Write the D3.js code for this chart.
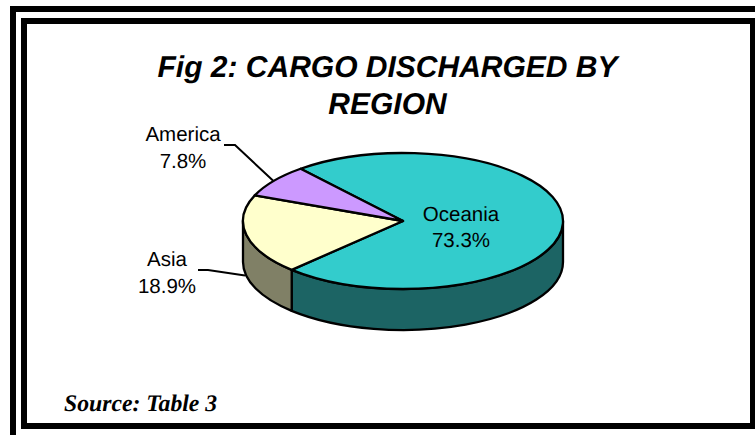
<!DOCTYPE html>
<html>
<head>
<meta charset="utf-8">
<script src="https://cdn.jsdelivr.net/npm/d3@7/dist/d3.min.js"></script>
<style>
html,body{margin:0;padding:0;background:#fff;overflow:hidden}
svg{display:block;text-rendering:geometricPrecision}
</style>
</head>
<body>
<svg id="c" width="755" height="435"></svg>
<script>
const categories = ["Oceania", "Asia", "America"];
const shares = [73.3, 18.9, 7.8];
const topColors = ["#33cccc", "#ffffcc", "#cc99ff"];
const sideColors = ["#1c6464", "#808066", "#664d80"];
const titleLines = ["Fig 2: CARGO DISCHARGED BY", "REGION"];
const sourceNote = "Source: Table 3";

const svg = d3.select("#c");
const cx = 403, cy = 221, rx = 160, ry = 68, depth = 41;
const rotation = -39.8 * Math.PI / 180;

// Frame
svg.append("path")
  .attr("d", "M13,435V9H755")
  .attr("fill", "none").attr("stroke", "#000").attr("stroke-width", 6);
svg.append("path")
  .attr("d", "M755,21H24V426H755")
  .attr("fill", "none").attr("stroke", "#000").attr("stroke-width", 6);
svg.append("rect").attr("x", 750).attr("y", 18).attr("width", 5).attr("height", 411).attr("fill", "#000");

// Pie layout
const pie = d3.pie().sort(null).value(d => d)
  .startAngle(rotation).endAngle(rotation + 2 * Math.PI);
const arcs = pie(shares);

const px = a => cx + rx * Math.sin(a);
const py = (a, dz = 0) => cy - ry * Math.cos(a) + dz;

const frontStart = Math.PI / 2, frontEnd = 3 * Math.PI / 2;

// Side walls (only the front half of the ellipse)
const g = svg.append("g")
  .attr("stroke", "#000").attr("stroke-width", 2.3).attr("stroke-linejoin", "round");

arcs.forEach((d, i) => {
  const a0 = Math.max(d.startAngle, frontStart);
  const a1 = Math.min(d.endAngle, frontEnd);
  if (a1 <= a0) return;
  const large = a1 - a0 > Math.PI ? 1 : 0;
  const dPath =
    `M${px(a0)},${py(a0)}` +
    `A${rx},${ry} 0 ${large} 1 ${px(a1)},${py(a1)}` +
    `L${px(a1)},${py(a1, depth)}` +
    `A${rx},${ry} 0 ${large} 0 ${px(a0)},${py(a0, depth)}Z`;
  g.append("path").attr("d", dPath).attr("fill", sideColors[i]);
});

// Top slices
const arcGen = d3.arc().innerRadius(0).outerRadius(rx);
g.selectAll("path.top").data(arcs).join("path")
  .attr("class", "top")
  .attr("d", arcGen)
  .attr("transform", `translate(${cx},${cy}) scale(1,${ry / rx})`)
  .attr("vector-effect", "non-scaling-stroke")
  .attr("fill", (d, i) => topColors[i]);

// Leader lines
const leaders = [
  null,
  [[198, 270], [208, 270], [245, 275.5]],
  [[224, 145], [235, 145], [274, 181.5]]
];
leaders.forEach(l => {
  if (!l) return;
  svg.append("path").attr("d", d3.line()(l))
    .attr("fill", "none").attr("stroke", "#000").attr("stroke-width", 2);
});

// Labels
const labelPos = [[461, 220.5], [167, 266], [183, 141]];
const labels = svg.append("g")
  .attr("font-family", "'Liberation Sans', Arial, sans-serif")
  .attr("font-size", 20.5).attr("fill", "#000").attr("text-anchor", "middle");
categories.forEach((c, i) => {
  const [x, y] = labelPos[i];
  labels.append("text").attr("x", x).attr("y", y).text(c);
  labels.append("text").attr("x", x).attr("y", y + 26.5).text(shares[i].toFixed(1) + "%");
});

// Title
const t = svg.append("g")
  .attr("font-family", "'Liberation Sans', Arial, sans-serif")
  .attr("font-size", 30).attr("font-weight", "bold").attr("font-style", "italic")
  .attr("fill", "#000").attr("text-anchor", "middle");
titleLines.forEach((s, i) => {
  t.append("text").attr("x", 387.5).attr("y", 77 + i * 37).text(s);
});

// Source
svg.append("text").attr("x", 64).attr("y", 411)
  .attr("font-family", "'Liberation Serif', 'Times New Roman', serif")
  .attr("font-size", 23.7).attr("font-weight", "bold").attr("font-style", "italic")
  .attr("fill", "#000").text(sourceNote);
</script>
</body>
</html>
